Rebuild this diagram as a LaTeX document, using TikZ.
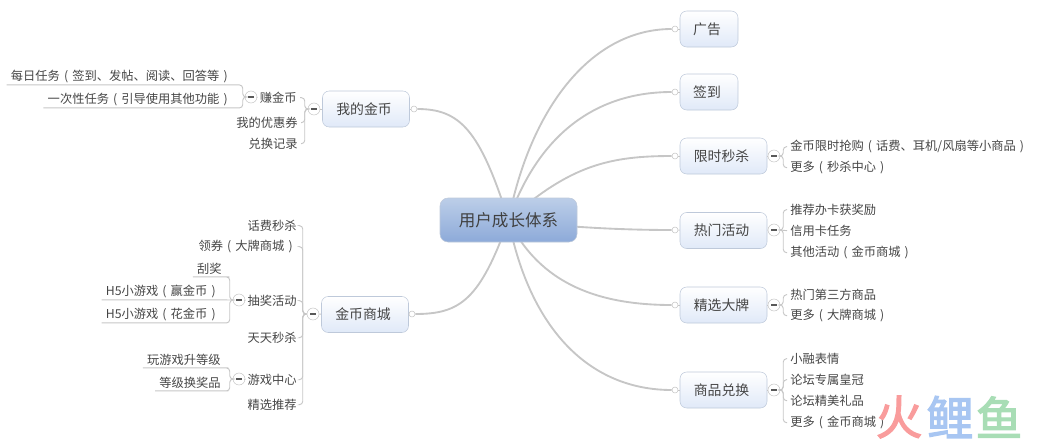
\documentclass[tikz,border=0pt]{standalone}
\usepackage{fontspec}
\setmainfont{Noto Sans CJK SC}
\newfontfamily\markfont[FakeBold=2.5]{Noto Sans CJK SC}
\usetikzlibrary{backgrounds}
\definecolor{linkgray}{HTML}{C6C6C6}
\definecolor{inkgray}{HTML}{454545}
\definecolor{boxedge}{HTML}{BEC9DA}
\definecolor{rootA}{HTML}{BCCEE8}
\definecolor{rootB}{HTML}{8DAAD9}
\definecolor{topicB}{HTML}{E0E9F8}
\definecolor{markred}{HTML}{F99C9C}
\definecolor{markblue}{HTML}{A8C6F2}
\definecolor{markgreen}{HTML}{A8DDB5}
\newcommand{\foldbar}{\textcolor{black!65}{\rule{4pt}{.8pt}}}
\newcommand{\lp}{\makebox[1em]{(}}
\newcommand{\rp}{\makebox[1em]{)}}
\tikzset{
  rootbox/.style={draw=boxedge,rounded corners=6pt,top color=rootA,bottom color=rootB,minimum width=102.75pt,minimum height=33pt,inner sep=0pt,font=\fontsize{12.4pt}{14pt}\selectfont,text=black!75},
  topicbox/.style={draw=boxedge,rounded corners=5pt,top color=white,bottom color=topicB,minimum height=27pt,inner sep=0pt,font=\fontsize{10.4pt}{12pt}\selectfont,text=inkgray,execute at begin node={\kern-3pt}},
  shortbox/.style={topicbox,minimum width=43.5pt},
  longbox/.style={topicbox,minimum width=65.25pt},
  leaf/.style={inner ysep=0pt,inner xsep=2.25pt,minimum height=12pt,yshift=-.5pt,font=\fontsize{9.2pt}{11pt}\selectfont,text=inkgray},
  uleaf/.style={leaf,inner xsep=3pt,anchor=east},
  dot/.style={circle,draw=linkgray,fill=white,minimum size=4.5pt,inner sep=0pt},
  fold/.style={circle,draw=linkgray,fill=white,minimum size=9pt,inner sep=0pt},
  curve/.style={draw=linkgray,line width=1.4pt},
  bracket/.style={draw=linkgray,line width=.7pt,rounded corners=2.5pt},
  markchar/.style={font=\fontsize{35pt}{38pt}\markfont}
}
\begin{document}
\begin{tikzpicture}[x=.75pt,y=-.75pt]
\useasboundingbox (0,0) rectangle (1045,440);
% centre and first level
\node[rootbox] (root) at (508.5,220) {用户成长体系};
\node[longbox] (wallet) at (366,109) {我的金币};
\node[longbox] (mall) at (365,314.5) {金币商城};
\node[shortbox] (ads) at (709,29) {广告};
\node[shortbox] (sign) at (709,92) {签到};
\node[longbox] (flash) at (723.5,156) {限时秒杀};
\node[longbox] (hot) at (723.5,230.5) {热门活动};
\node[longbox] (brand) at (723.5,305) {精选大牌};
\node[longbox] (swap) at (723.5,390) {商品兑换};
% small rings on the curves
\node[dot] (dWallet) at (414,109) {};
\node[dot] (dMall) at (412,314) {};
\node[dot] (dAds) at (675,29) {};
\node[dot] (dSign) at (675,92) {};
\node[dot] (dFlash) at (675,156) {};
\node[dot] (dHot) at (675,230) {};
\node[dot] (dBrand) at (675,305) {};
\node[dot] (dSwap) at (675,390) {};
% fold buttons
\node[fold] (fWallet) at (314,109) {\foldbar};
\node[fold] (fEarn) at (251,97) {\foldbar};
\node[fold] (fMall) at (313,314) {\foldbar};
\node[fold] (fDraw) at (239,300) {\foldbar};
\node[fold] (fGame) at (239,379) {\foldbar};
\node[fold] (fFlash) at (774,156) {\foldbar};
\node[fold] (fHot) at (774,230) {\foldbar};
\node[fold] (fBrand) at (774,305) {\foldbar};
\node[fold] (fSwap) at (774,390) {\foldbar};
% left, upper
\node[leaf,anchor=east] (earn) at (300,97) {赚金币};
\node[leaf,anchor=east] (coupon) at (301,122) {我的优惠券};
\node[leaf,anchor=east] (record) at (301,143) {兑换记录};
\node[uleaf] (daily) at (236,76) {每日任务\lp 签到、发帖、阅读、回答等\rp};
\node[uleaf] (once) at (236,99) {一次性任务\lp 引导使用其他功能\rp};
% left, lower
\node[leaf,anchor=east] (fee) at (300,225) {话费秒杀};
\node[leaf,anchor=east] (ticket) at (300,246) {领券\lp 大牌商城\rp};
\node[leaf,anchor=east] (draw) at (300,300) {抽奖活动};
\node[leaf,anchor=east] (daysale) at (300,337) {天天秒杀};
\node[leaf,anchor=east] (game) at (300,379) {游戏中心};
\node[leaf,anchor=east] (pick) at (300,404) {精选推荐};
\node[uleaf] (scratch) at (226,268) {刮奖};
\node[uleaf] (win) at (224,291) {H5小游戏\lp 赢金币\rp};
\node[uleaf] (spend) at (224,314) {H5小游戏\lp 花金币\rp};
\node[uleaf] (level) at (225,359) {玩游戏升等级};
\node[uleaf] (prize) at (225,382) {等级换奖品};
% right
\node[leaf,anchor=west] (rush) at (787,146) {金币限时抢购\lp 话费、耳机/风扇等小商品\rp};
\node[leaf,anchor=west] (more1) at (787,167) {更多\lp 秒杀中心\rp};
\node[leaf,anchor=west] (card) at (787,209) {推荐办卡获奖励};
\node[leaf,anchor=west] (credit) at (787,230) {信用卡任务};
\node[leaf,anchor=west] (other) at (787,252) {其他活动\lp 金币商城\rp};
\node[leaf,anchor=west] (third) at (787,294) {热门第三方商品};
\node[leaf,anchor=west] (more2) at (787,315) {更多\lp 大牌商城\rp};
\node[leaf,anchor=west] (emoji) at (787,358) {小融表情};
\node[leaf,anchor=west] (crown) at (787,379) {论坛专属皇冠};
\node[leaf,anchor=west] (gift) at (787,400) {论坛精美礼品};
\node[leaf,anchor=west] (more3) at (787,422) {更多\lp 金币商城\rp};
% mark in the corner
\node[markchar,text=markred] (wmA) at (899,417) {火};
\node[markchar,text=markblue] (wmB) at (950,417) {鲤};
\node[markchar,text=markgreen] (wmC) at (999,417) {鱼};
\begin{scope}[on background layer]
\draw[curve] (root.center) .. controls (530,110) and (590,29) .. (dAds.west);
\draw[curve] (root.center) .. controls (540,130) and (600,92) .. (dSign.west);
\draw[curve] (root.center) .. controls (570,165) and (610,156) .. (dFlash.west);
\draw[curve] (root.center) .. controls (570,228) and (630,230) .. (dHot.west);
\draw[curve] (root.center) .. controls (540,285) and (600,305) .. (dBrand.west);
\draw[curve] (root.center) .. controls (530,330) and (590,390) .. (dSwap.west);
\draw[curve] (root.center) .. controls (480,130) and (460,109) .. (dWallet.east);
\draw[curve] (root.center) .. controls (480,300) and (460,314) .. (dMall.east);
\end{scope}
\draw[bracket] (dWallet) -- (wallet);
\draw[bracket] (dMall) -- (mall);
\draw[bracket] (dAds) -- (ads);
\draw[bracket] (dSign) -- (sign);
\draw[bracket] (dFlash) -- (flash);
\draw[bracket] (dHot) -- (hot);
\draw[bracket] (dBrand) -- (brand);
\draw[bracket] (dSwap) -- (swap);
\draw[bracket] (fWallet) -- (wallet);
\draw[bracket] (fMall) -- (mall);
\draw[bracket] (fFlash) -- (flash);
\draw[bracket] (fHot) -- (hot);
\draw[bracket] (fBrand) -- (brand);
\draw[bracket] (fSwap) -- (swap);
% brackets to the left
\draw[bracket] (fWallet.west) -- ++(-3,0) |- (earn.east);
\draw[bracket] (fWallet.west) -- ++(-3,0) |- (coupon.east);
\draw[bracket] (fWallet.west) -- ++(-3,0) |- (record.east);
\draw[bracket] (fEarn.east) -- (earn.west);
\draw[bracket] (fEarn.west) -- ++(-2,0) |- (daily.south east) -- (daily.south west);
\draw[bracket] (fEarn.west) -- ++(-2,0) |- (once.south east) -- (once.south west);
\draw[bracket] (fMall.west) -- ++(-4,0) |- (fee.east);
\draw[bracket] (fMall.west) -- ++(-4,0) |- (ticket.east);
\draw[bracket] (fMall.west) -- ++(-4,0) |- (draw.east);
\draw[bracket] (fMall.west) -- ++(-4,0) |- (daysale.east);
\draw[bracket] (fMall.west) -- ++(-4,0) |- (game.east);
\draw[bracket] (fMall.west) -- ++(-4,0) |- (pick.east);
\draw[bracket] (fDraw.east) -- (draw.west);
\draw[bracket] (fGame.east) -- (game.west);
\draw[bracket] (fDraw.west) -- ++(-3,0) |- (scratch.south east) -- (scratch.south west);
\draw[bracket] (fDraw.west) -- (win.south east) -- (win.south west);
\draw[bracket] (fDraw.west) -- ++(-3,0) |- (spend.south east) -- (spend.south west);
\draw[bracket] (fGame.west) -- ++(-3,0) |- (level.south east) -- (level.south west);
\draw[bracket] (fGame.west) -- ++(-3,0) |- (prize.south east) -- (prize.south west);
% brackets to the right
\draw[bracket] (fFlash.east) -- ++(3,0) |- (rush.west);
\draw[bracket] (fFlash.east) -- ++(3,0) |- (more1.west);
\draw[bracket] (fHot.east) -- ++(3,0) |- (card.west);
\draw[bracket] (fHot.east) -- (credit.west);
\draw[bracket] (fHot.east) -- ++(3,0) |- (other.west);
\draw[bracket] (fBrand.east) -- ++(3,0) |- (third.west);
\draw[bracket] (fBrand.east) -- ++(3,0) |- (more2.west);
\draw[bracket] (fSwap.east) -- ++(3,0) |- (emoji.west);
\draw[bracket] (fSwap.east) -- ++(3,0) |- (crown.west);
\draw[bracket] (fSwap.east) -- ++(3,0) |- (gift.west);
\draw[bracket] (fSwap.east) -- ++(3,0) |- (more3.west);
\end{tikzpicture}
\end{document}
